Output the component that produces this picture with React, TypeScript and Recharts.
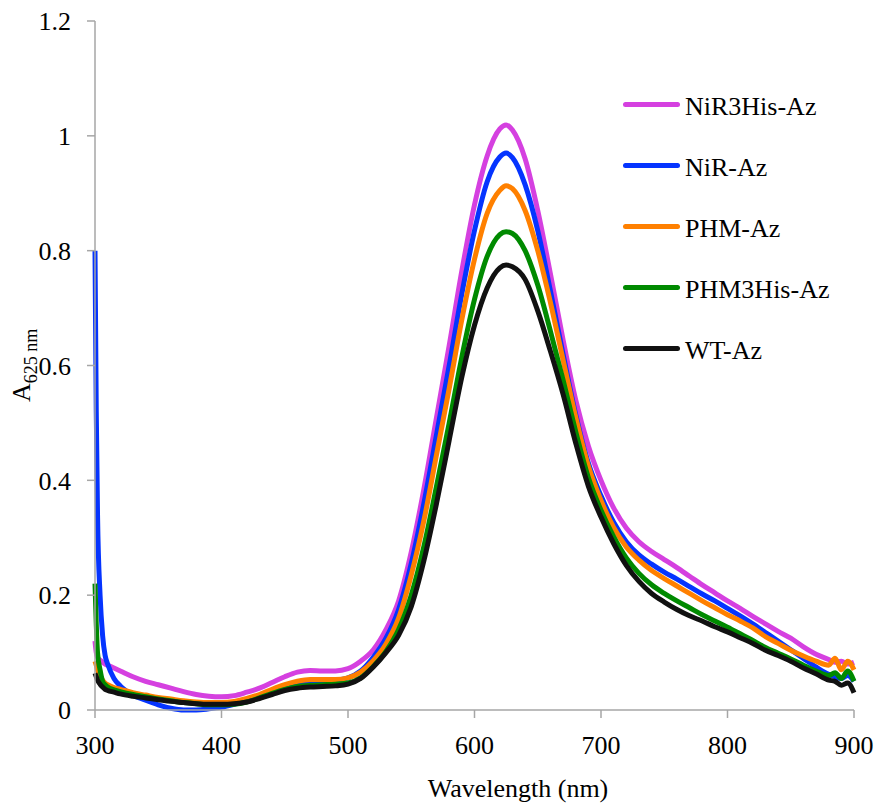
import React from 'react';
import { LineChart, Line, XAxis, YAxis, Legend, Label } from 'recharts';

const wavelengths = [300,301,302,304,306,308,310,315,320,330,340,350,360,370,380,390,400,410,420,430,440,450,460,470,480,490,500,510,520,530,540,550,560,570,580,590,600,610,620,625,630,640,650,660,670,680,690,700,710,720,730,740,750,760,770,780,790,800,810,820,830,840,850,860,870,880,885,890,895,900];

const nir3his = [0.12,0.10,0.092,0.087,0.083,0.08,0.078,0.073,0.068,
0.058,0.05,0.044,0.038,0.032,0.027,0.024,0.023,0.025,0.031,
0.038,0.048,0.058,0.066,0.069,0.068,0.068,0.072,0.085,0.105,
0.14,0.19,0.275,0.385,0.51,0.635,0.765,0.88,0.965,1.012,
1.019,
1.01,0.96,0.87,0.76,0.645,0.54,0.46,0.4,0.352,0.317,
0.293,0.276,0.262,0.248,0.233,0.218,0.204,0.19,0.177,0.163,
0.15,0.137,0.125,0.11,0.097,0.088,
0.083,0.085,0.08,0.083];

const nir = [0.80,0.52,0.34,0.2,0.13,0.095,0.08,0.055,0.042,
0.026,0.017,0.009,0.003,0.0,0.0,0.002,0.005,0.01,0.016,
0.025,0.034,0.042,0.048,0.05,0.051,0.052,0.056,0.068,0.092,
0.125,0.175,0.255,0.36,0.48,0.6,0.725,0.835,0.92,0.963,
0.97,
0.962,0.915,0.835,0.73,0.62,0.515,0.43,0.373,0.327,0.293,
0.27,0.254,0.24,0.228,0.215,0.202,0.19,0.177,0.164,0.15,
0.135,0.12,0.105,0.09,0.075,0.062,
0.058,0.055,0.06,0.05];

const phm = [0.085,0.078,0.07,0.06,0.052,0.047,0.044,0.039,0.036,
0.03,0.026,0.022,0.019,0.016,0.014,0.013,0.013,0.015,0.02,
0.027,0.036,0.044,0.05,0.053,0.053,0.053,0.056,0.066,0.086,
0.115,0.16,0.235,0.33,0.445,0.56,0.68,0.785,0.865,0.905,
0.913,
0.908,0.87,0.8,0.71,0.61,0.51,0.425,0.365,0.318,0.284,
0.261,0.243,0.229,0.216,0.203,0.19,0.178,0.166,0.155,0.143,
0.128,0.116,0.104,0.094,0.085,0.078,
0.09,0.07,0.085,0.07];

const phm3his = [0.22,0.15,0.1,0.07,0.05,0.044,0.04,0.035,0.032,
0.027,0.023,0.019,0.016,0.013,0.011,0.009,0.009,0.01,0.014,
0.021,0.029,0.036,0.041,0.043,0.044,0.045,0.047,0.056,0.076,
0.102,0.14,0.2,0.285,0.39,0.5,0.615,0.715,0.79,0.828,
0.833,
0.83,0.8,0.74,0.66,0.575,0.485,0.405,0.348,0.302,0.265,
0.238,0.218,0.203,0.19,0.178,0.166,0.155,0.144,0.133,0.121,
0.109,0.099,0.089,0.078,0.068,0.06,
0.065,0.055,0.068,0.05];

const wt = [0.064,0.058,0.052,0.045,0.04,0.036,0.034,0.031,0.028,
0.024,0.021,0.018,0.015,0.013,0.011,0.01,0.01,0.011,0.014,
0.02,0.027,0.034,0.038,0.04,0.041,0.042,0.045,0.055,0.075,
0.1,0.13,0.18,0.26,0.36,0.47,0.58,0.67,0.735,0.77,
0.775,
0.772,0.75,0.695,0.625,0.55,0.465,0.39,0.336,0.29,0.252,
0.224,0.203,0.188,0.175,0.164,0.155,0.145,0.136,0.126,0.116,
0.104,0.095,0.085,0.073,0.063,0.052,
0.05,0.043,0.047,0.03];

const seriesNames = ['NiR3His-Az', 'NiR-Az', 'PHM-Az', 'PHM3His-Az', 'WT-Az'];
const seriesKeys = ['nir3his', 'nir', 'phm', 'phm3his', 'wt'];
const seriesColors = ['#D540E0', '#0534FF', '#FF8000', '#008A00', '#111111'];
const seriesValues = [nir3his, nir, phm, phm3his, wt];

const xTicks = [300, 400, 500, 600, 700, 800, 900];
const yTicks = [0, 0.2, 0.4, 0.6, 0.8, 1, 1.2];

const data = wavelengths.map((wl, i) => {
  const row: Record<string, number> = { wl };
  seriesKeys.forEach((k, j) => { row[k] = seriesValues[j][i]; });
  return row;
});

const FONT = 'Liberation Serif';
const AXIS_GRAY = '#A6A6A6';

const renderLegend = () => (
  <div style={{ position: 'relative', width: 220, height: 280, fontFamily: FONT }}>
    {seriesNames.map((name, i) => {
      const c = 10 + i * 61;
      return (
        <React.Fragment key={name}>
          <div style={{ position: 'absolute', left: 0, top: c - 2.5, width: 57, height: 5, borderRadius: 2.5, background: seriesColors[i] }} />
          <div style={{ position: 'absolute', left: 62, top: c - 9.8, fontSize: 26, lineHeight: '26px', color: '#000', whiteSpace: 'nowrap', fontFamily: FONT }}>{name}</div>
        </React.Fragment>
      );
    })}
  </div>
);

const XTitle = () => (
  <text x={518} y={797} textAnchor="middle" style={{ fontFamily: FONT, fontSize: 26 }} fill="#000">Wavelength (nm)</text>
);

const YTitle = () => (
  <text x={30} y={402} transform="rotate(-90 30 402)" style={{ fontFamily: FONT }} fill="#000">
    <tspan style={{ fontSize: 26 }}>A</tspan>
    <tspan style={{ fontSize: 18 }} dy={7}>625 nm</tspan>
  </text>
);

export default function App() {
  return (
    <div style={{ position: 'absolute', left: 0, top: 0, width: 876, height: 805, background: '#fff', fontFamily: FONT }}>
      <LineChart width={876} height={805} data={data} margin={{ top: 21, right: 22, bottom: 0, left: 0 }} style={{ fontFamily: FONT }}>
        <XAxis
          dataKey="wl"
          type="number"
          domain={[300, 900]}
          ticks={xTicks}
          height={95}
          tickSize={8}
          tickMargin={18}
          axisLine={{ stroke: AXIS_GRAY, strokeWidth: 1.5 }}
          tickLine={{ stroke: AXIS_GRAY, strokeWidth: 1.5 }}
          tick={{ fill: '#000', fontSize: 26, fontFamily: FONT, style: { fontFamily: FONT } }}
        >
          <Label content={XTitle} />
        </XAxis>
        <YAxis
          type="number"
          domain={[0, 1.2]}
          ticks={yTicks}
          width={95}
          tickSize={8}
          tickMargin={16}
          axisLine={{ stroke: AXIS_GRAY, strokeWidth: 1.5 }}
          tickLine={{ stroke: AXIS_GRAY, strokeWidth: 1.5 }}
          tick={{ fill: '#000', fontSize: 26, fontFamily: FONT, style: { fontFamily: FONT } }}
        >
          <Label content={YTitle} />
        </YAxis>
        <Legend
          layout="horizontal"
          verticalAlign="middle"
          align="center"
          content={renderLegend}
          wrapperStyle={{ left: 623, top: 94, width: 220, height: 280 }}
        />
        {seriesKeys.map((k, i) => (
          <Line
            key={k}
            dataKey={k}
            name={seriesNames[i]}
            type="monotone"
            stroke={seriesColors[i]}
            strokeWidth={5}
            dot={false}
            activeDot={false}
            isAnimationActive={false}
          />
        ))}
      </LineChart>
    </div>
  );
}
